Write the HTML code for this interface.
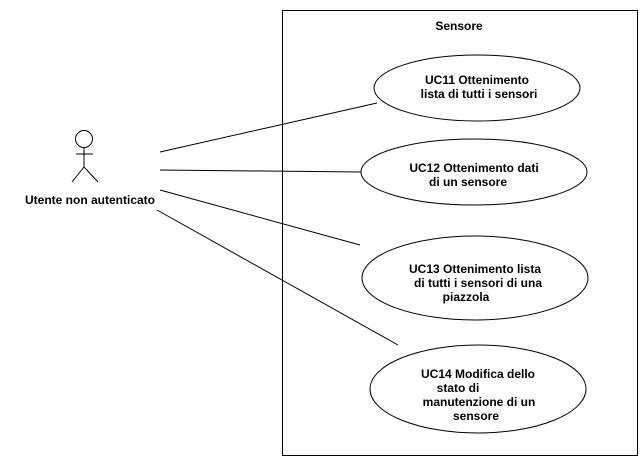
<!DOCTYPE html>
<html><head><meta charset="utf-8"><style>body{margin:0;background:#fff}svg{display:block}text{font-family:"Liberation Sans",sans-serif;font-weight:bold;font-size:12px;fill:#000}</style></head>
<body>
<svg width="643" height="460" viewBox="0 0 643 460">
<rect x="282.5" y="10.5" width="355" height="445" fill="#fff" stroke="#000" stroke-width="1"/>
<text x="459" y="30" text-anchor="middle">Sensore</text>
<g fill="#fff" stroke="#000" stroke-width="1">
<ellipse cx="477" cy="88" rx="103" ry="33"/>
<ellipse cx="474" cy="172" rx="113" ry="33"/>
<ellipse cx="475" cy="278" rx="113" ry="42"/>
<ellipse cx="478" cy="389" rx="108" ry="44"/>
</g>
<g stroke="#000" stroke-width="1" fill="none">
<line x1="160" y1="152" x2="377" y2="103"/>
<line x1="160" y1="170" x2="361" y2="172"/>
<line x1="160" y1="190" x2="360" y2="245"/>
<line x1="157" y1="210" x2="398" y2="345"/>
<circle cx="84" cy="139" r="8.5"/>
<line x1="84" y1="147.5" x2="84" y2="167"/>
<line x1="76" y1="154" x2="93" y2="154"/>
<line x1="84" y1="167" x2="72" y2="182"/>
<line x1="84" y1="167" x2="98" y2="182"/>
</g>
<text x="90" y="204" text-anchor="middle">Utente non autenticato</text>
<text x="477" y="84" text-anchor="middle">UC11 Ottenimento</text>
<text x="479" y="98" text-anchor="middle">lista di tutti i sensori</text>
<text x="474" y="172" text-anchor="middle">UC12 Ottenimento dati</text>
<text x="468" y="186" text-anchor="middle">di un sensore</text>
<text x="475" y="273" text-anchor="middle">UC13 Ottenimento lista</text>
<text x="478" y="287" text-anchor="middle">di tutti i sensori di una</text>
<text x="466" y="301" text-anchor="middle">piazzola</text>
<text x="478" y="378" text-anchor="middle">UC14 Modifica dello</text>
<text x="458" y="392" text-anchor="middle">stato di</text>
<text x="479" y="406" text-anchor="middle">manutenzione di un</text>
<text x="476" y="420" text-anchor="middle">sensore</text>
</svg>
</body></html>
